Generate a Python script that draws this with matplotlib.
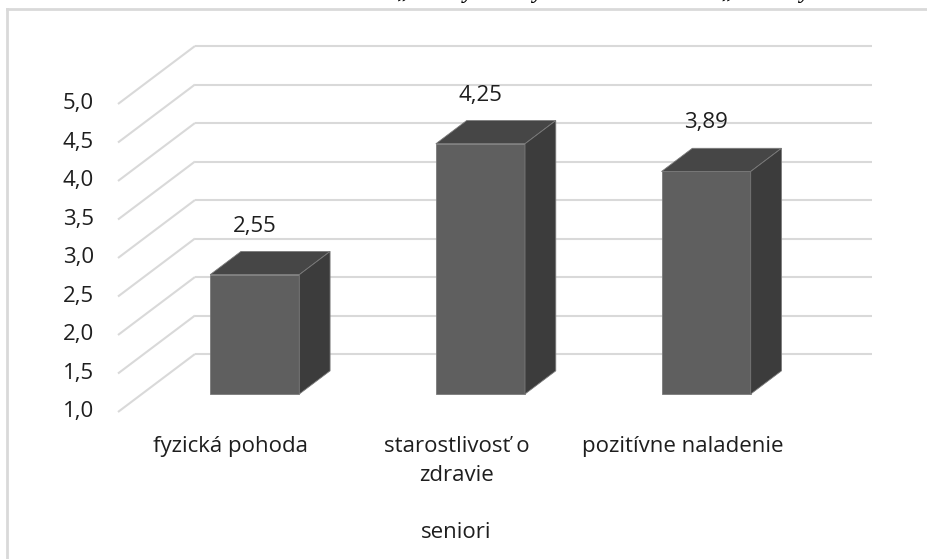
import numpy as np
import matplotlib.pyplot as plt
from matplotlib.patches import Polygon
from matplotlib.lines import Line2D

plt.rcParams['font.family'] = ['Open Sans', 'DejaVu Sans']

# Data
categories = ['fyzická pohoda', 'starostlivosť o\nzdravie', 'pozitívne naladenie']
values = [2.55, 4.25, 3.89]
value_labels = ['2,55', '4,25', '3,89']
axis_ticks = [1.0, 1.5, 2.0, 2.5, 3.0, 3.5, 4.0, 4.5, 5.0]
axis_title = 'seniori'

# 3D look: depth direction in data units (x in categories, y in values)
depth_x = 0.341
depth_y = 0.753
bar_front = 0.31   # fraction of the depth where the bar's front face sits
bar_back = 0.71
bar_width = 0.395
y_min = 1.0

front_col = '#5f5f5f'
top_col = '#464646'
side_col = '#3c3c3c'
edge_col = '#7a7a7a'
grid_col = '#d9d9d9'
text_col = '#1e1e1e'

fig = plt.figure(figsize=(9.27, 5.59), dpi=100)
ax = fig.add_axes([0, 0, 1, 1])
# 225.7 px per category, 77 px per value unit; floor front corner at (118, 412) px
ax.set_xlim(-118 / 225.7, (927 - 118) / 225.7)
ax.set_ylim(1 - 147 / 77, 1 + 412 / 77)
ax.axis('off')

n = len(categories)

# walls: diagonal on the side wall, horizontal on the back wall
for v in axis_ticks:
    ax.plot([0, depth_x], [v, v + depth_y], color=grid_col, lw=1.5, zorder=1,
            solid_capstyle='butt')
    ax.plot([depth_x, n + depth_x], [v + depth_y, v + depth_y], color=grid_col,
            lw=1.5, zorder=1, solid_capstyle='butt')

# bars
fx = bar_front * depth_x
fy = bar_front * depth_y
bx = (bar_back - bar_front) * depth_x
by = (bar_back - bar_front) * depth_y
for i, v in enumerate(values):
    cx = i + 0.5 + fx
    left = cx - bar_width / 2
    right = cx + bar_width / 2
    base = y_min + fy
    top = v + fy
    ax.bar(cx, v - y_min, bottom=base, width=bar_width, color=front_col,
           edgecolor=edge_col, linewidth=0.6, zorder=3)
    ax.add_patch(Polygon([[left, top], [right, top], [right + bx, top + by],
                          [left + bx, top + by]], closed=True, facecolor=top_col,
                         edgecolor=edge_col, linewidth=0.6, zorder=3))
    ax.add_patch(Polygon([[right, base], [right + bx, base + by],
                          [right + bx, top + by], [right, top]], closed=True,
                         facecolor=side_col, edgecolor=edge_col, linewidth=0.6,
                         zorder=3))
    ax.text(cx, top + 0.56, value_labels[i], ha='center', va='baseline',
            fontsize=16, color=text_col, zorder=4)

# value axis labels
for v in axis_ticks:
    ax.text(-0.106, v, f'{v:.1f}'.replace('.', ','), ha='right', va='center',
            fontsize=16, color=text_col)

# category labels and axis title
for i, c in enumerate(categories):
    ax.text(i + 0.5, 0.69, c, ha='center', va='top', multialignment='center',
            fontsize=16, color=text_col, linespacing=1.5)
ax.text(n / 2, -0.636, axis_title, ha='center', va='baseline', fontsize=16,
        color=text_col)

# chart frame (left and top edges)
fig.add_artist(Line2D([7 / 927, 7 / 927], [0, 1 - 9 / 559], color=grid_col,
                      lw=2, transform=fig.transFigure))
fig.add_artist(Line2D([7 / 927, 1], [1 - 9 / 559, 1 - 9 / 559], color=grid_col,
                      lw=2, transform=fig.transFigure))

# caption above the chart, mostly outside the canvas
fig.text(398 / 927, 1 + 2 / 559, '„Zdravý životný“ ako hodnotenie v „Kvalitný',
         ha='left', va='baseline', fontsize=16, family='Liberation Serif',
         style='italic', weight='bold', color='black')

fig.savefig('out.png', dpi=100)
